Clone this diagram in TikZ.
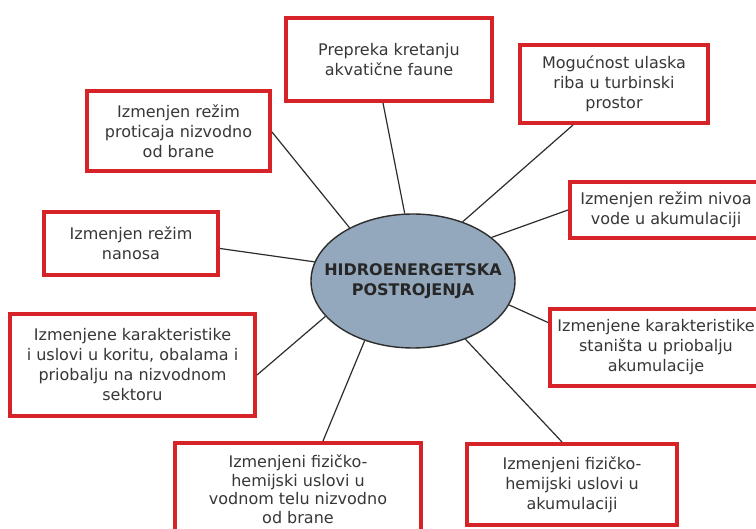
\documentclass[tikz,border=0pt]{standalone}
\usepackage{fontspec}
\setmainfont{DejaVu Sans}
\usetikzlibrary{shapes.geometric}
\definecolor{boxred}{RGB}{214,35,40}
\definecolor{txtgray}{RGB}{55,55,55}
\definecolor{hubfill}{RGB}{147,168,188}
\definecolor{linegray}{RGB}{45,45,45}
\tikzset{
  effbox/.style={draw=boxred, line width=4pt, fill=white, inner sep=0pt, align=center,
    text=txtgray, font=\fontsize{16}{20}\selectfont},
  hub/.style={ellipse, draw=linegray, line width=1.4pt, fill=hubfill,
    inner xsep=-30pt, inner ysep=0pt,
    minimum width=204pt, minimum height=134pt, align=center,
    font=\bfseries\fontsize{16}{20}\selectfont, text=black!85},
  conn/.style={draw=linegray, line width=1.2pt}
}
\begin{document}
\begin{tikzpicture}[x=1pt,y=-1pt]
\useasboundingbox (0,0) rectangle (756,529);
\clip (0,0) rectangle (756,529);
\fill[white] (0,0) rectangle (756,529);

\node[hub] (hub) at (413,281) {HIDROENERGETSKA\\POSTROJENJA};

\node[effbox, minimum width=206pt, minimum height=83pt] (p1) at (389,59.5)
  {Prepreka kretanju\\akvatične faune};
\node[effbox, minimum width=188pt, minimum height=78pt] (p2) at (614,84)
  {Mogućnost ulaska\\riba u turbinski\\prostor};
\node[effbox, minimum width=183pt, minimum height=80pt] (p3) at (178.5,131)
  {Izmenjen režim\\proticaja nizvodno\\od brane};
\node[effbox, minimum width=192pt, minimum height=56pt] (p4) at (666,210)
  {Izmenjen režim nivoa\\vode u akumulaciji};
\node[effbox, minimum width=174pt, minimum height=63pt] (p5) at (131,243.5)
  {Izmenjen režim\\nanosa};
\node[effbox, minimum width=245pt, minimum height=102pt] (p6) at (132.5,365)
  {Izmenjene karakteristike\\i uslovi u koritu, obalama i\\priobalju na nizvodnom\\sektoru};
\node[effbox, minimum width=212pt, minimum height=77pt] (p7) at (656,347.5)
  {Izmenjene karakteristike\\staništa u priobalju\\akumulacije};
\node[effbox, minimum width=246pt, minimum height=92pt, font=\fontsize{16}{18.5}\selectfont] (p8) at (298,489)
  {Izmenjeni fizičko-\\hemijski uslovi u\\vodnom telu nizvodno\\od brane};
\node[effbox, minimum width=210pt, minimum height=81pt] (p9) at (572,484.5)
  {Izmenjeni fizičko-\\hemijski uslovi u\\akumulaciji};

\draw[conn] ([xshift=-6pt]p1.south) -- (hub.97);
\draw[conn] ([xshift=-41pt]p2.south) -- (hub.50);
\draw[conn] ([yshift=-1pt]p3.east) -- (hub.140);
\draw[conn] (p4.west) -- (hub.29);
\draw[conn] ([yshift=-5pt]p5.east) -- (hub.169);
\draw[conn] ([yshift=-10pt]p6.east) -- (hub.202);
\draw[conn] ([yshift=25pt]p7.west) -- (hub.346);
\draw[conn] ([xshift=25pt]p8.north) -- (hub.231);
\draw[conn] ([xshift=-10pt]p9.north) -- (hub.312);
\end{tikzpicture}
\end{document}
